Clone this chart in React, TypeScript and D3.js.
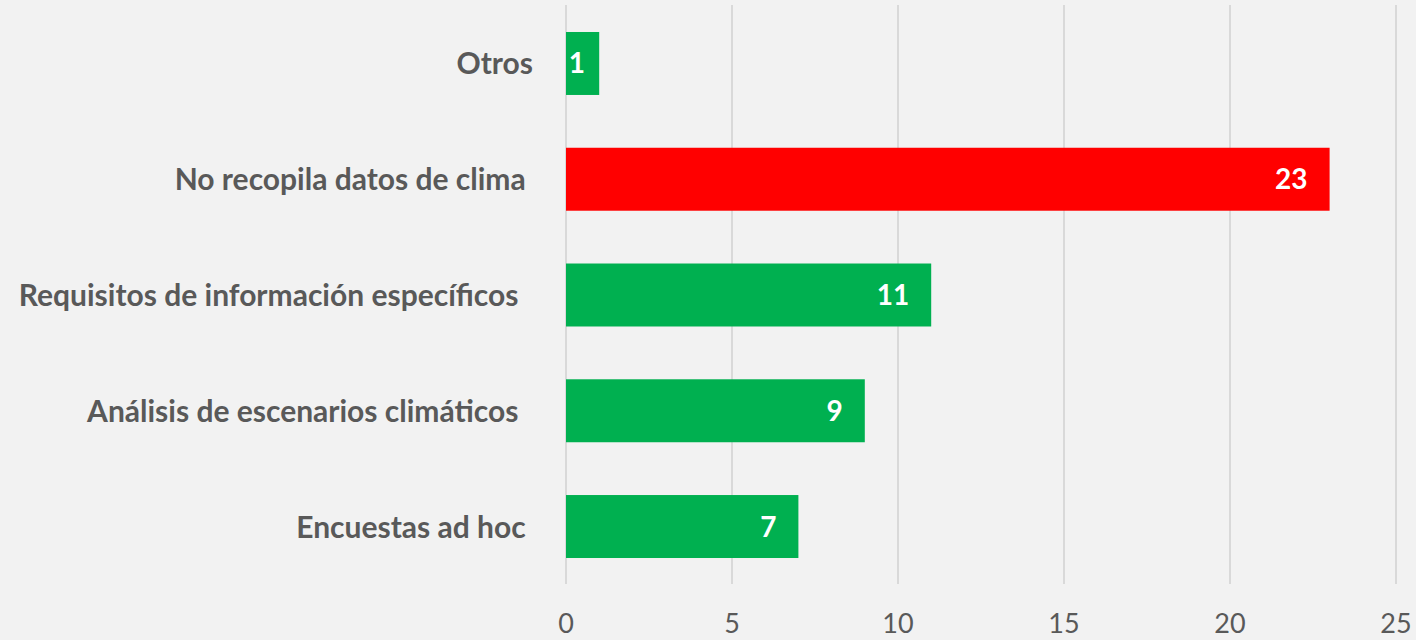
import { useRef, useEffect } from "react";
import * as d3 from "d3";

// categories, top to bottom (trailing spaces are part of the original labels)
const categories = [
  "Otros",
  "No recopila datos de clima ",
  "Requisitos de información específicos  ",
  "Análisis de escenarios climáticos  ",
  "Encuestas ad hoc ",
];
const values = [1, 23, 11, 9, 7];
const highlighted = "No recopila datos de clima ";
const xTicks = [0, 5, 10, 15, 20, 25];

export default function App() {
  const width = 1416;
  const height = 640;
  const root = useRef<SVGSVGElement>(null);

  useEffect(() => {
    const svg = d3.select(root.current);
    svg.selectAll("*").remove();

    const x = d3.scaleLinear([0, 25], [566, 1396]);
    const y = d3.scaleBand(categories, [5.6, 584.4]).paddingInner(0.456).paddingOuter(0.228);

    svg.append("rect")
      .attr("width", width)
      .attr("height", height)
      .attr("fill", "#f2f2f2");

    // gridlines
    svg.append("g")
      .selectAll("line")
      .data(xTicks)
      .enter()
      .append("line")
      .attr("x1", d => x(d))
      .attr("x2", d => x(d))
      .attr("y1", 5)
      .attr("y2", 584)
      .attr("stroke", "#d9d9d9")
      .attr("stroke-width", 2);

    // tick labels
    svg.append("g")
      .selectAll("text")
      .data(xTicks)
      .enter()
      .append("text")
      .attr("x", d => x(d))
      .attr("y", 633)
      .attr("text-anchor", "middle")
      .attr("font-family", "Lato, 'Open Sans', sans-serif")
      .attr("font-size", 27)
      .attr("fill", "#595959")
      .text(d => d);

    // bars
    svg.append("g")
      .selectAll("rect")
      .data(categories)
      .enter()
      .append("rect")
      .attr("x", x(0))
      .attr("y", d => y(d)!)
      .attr("width", (d, i) => x(values[i]) - x(0))
      .attr("height", y.bandwidth())
      .attr("fill", d => (d === highlighted ? "#ff0000" : "#00b050"));

    // value labels (inside end, kept inside short bars)
    svg.append("g")
      .selectAll("text")
      .data(categories)
      .enter()
      .append("text")
      .attr("x", (d, i) => Math.max(x(values[i]) - 22, x(0) + 19))
      .attr("y", d => y(d)! + y.bandwidth() / 2 + 10)
      .attr("text-anchor", "end")
      .attr("font-family", "Lato, 'Open Sans', sans-serif")
      .attr("font-weight", "bold")
      .attr("font-size", 28)
      .attr("fill", "#ffffff")
      .text((d, i) => values[i]);

    // category labels
    svg.append("g")
      .selectAll("text")
      .data(categories)
      .enter()
      .append("text")
      .attr("x", 533)
      .attr("y", d => y(d)! + y.bandwidth() / 2 + 11)
      .attr("text-anchor", "end")
      .attr("xml:space", "preserve")
      .style("white-space", "pre")
      .attr("font-family", "Lato, 'Open Sans', sans-serif")
      .attr("font-weight", "bold")
      .attr("font-size", 30)
      .attr("fill", "#595959")
      .text(d => d);
  }, []);

  return (
    <div style={{ position: "fixed", left: 0, top: 0 }}>
      <svg ref={root} width={width} height={height} style={{ display: "block" }} />
    </div>
  );
}
